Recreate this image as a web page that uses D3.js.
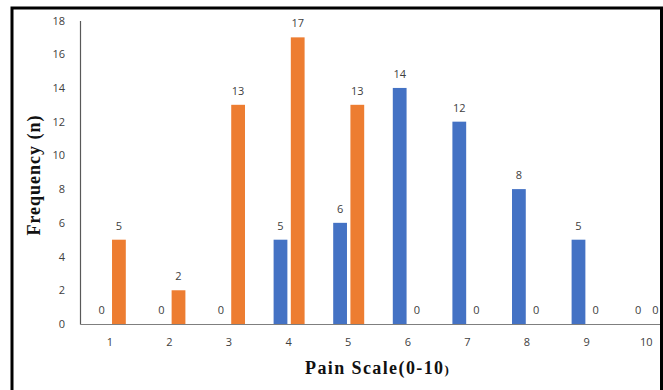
<!DOCTYPE html>
<html><head><meta charset="utf-8">
<script src="https://cdn.jsdelivr.net/npm/d3@7"></script>
<style>body{margin:0;background:#fff}svg{display:block}</style>
</head><body>
<svg id="c" width="663" height="390"></svg>
<script>
const categories = ["1","2","3","4","5","6","7","8","9","10"];
const seriesBlue = [0,0,0,5,6,14,12,8,5,0];
const seriesOrange = [5,2,13,17,13,0,0,0,0,0];
const yTicks = [0,2,4,6,8,10,12,14,16,18];

const svg = d3.select("#c");
const x = d3.scaleBand().domain(categories).range([80, 676]).padding(0);
const y = d3.scaleLinear().domain([0,18]).range([324, 20.5]);
const sub = d3.scaleBand().domain(["b","o"]).range([-15,16]).paddingInner(0.2);
const colors = {b:"#4472C4", o:"#ED7D31"};
const tickFont = "'Open Sans', Lato, sans-serif";

const g = svg.append("g");
const data = categories.map((c,i)=>({c, b:seriesBlue[i], o:seriesOrange[i]}));

["b","o"].forEach(k=>{
  g.selectAll(".bar"+k).data(data).enter().append("rect")
    .attr("x", d=> x(d.c)+x.bandwidth()/2 + sub(k))
    .attr("width", sub.bandwidth())
    .attr("y", d=> y(d[k]))
    .attr("height", d=> y(0)-y(d[k]))
    .attr("fill", colors[k]);
  g.selectAll(".lab"+k).data(data).enter().append("text")
    .attr("x", d=> x(d.c)+x.bandwidth()/2 + sub(k) + sub.bandwidth()/2)
    .attr("y", d=> y(d[k]) - 10)
    .attr("text-anchor","middle")
    .attr("font-family", tickFont).attr("font-size", 11)
    .attr("fill","#404040")
    .text(d=> d[k]);
});

// axes
const yAxis = d3.axisLeft(y).tickValues(yTicks).tickSize(0).tickPadding(15);
const ya = svg.append("g").attr("transform","translate(80,0)").call(yAxis);
ya.select(".domain").attr("stroke","#595959").attr("stroke-width",1.2);
ya.selectAll("text").attr("font-family",tickFont).attr("font-size",11).attr("fill","#404040");

const xAxis = d3.axisBottom(x).tickSize(0).tickPadding(14);
const xa = svg.append("g").attr("transform","translate(0,324)").call(xAxis);
xa.select(".domain").attr("stroke","#7f7f7f").attr("stroke-width",1.2);
xa.selectAll("text").attr("font-family",tickFont).attr("font-size",11).attr("fill","#404040");

// titles
const serif = "'Liberation Serif', 'DejaVu Serif', serif";
svg.append("text").attr("transform","translate(40,175) rotate(-90)")
  .attr("text-anchor","middle").attr("font-family",serif).attr("font-weight","bold")
  .attr("font-size",18).attr("letter-spacing",1).attr("fill","#111").text("Frequency (n)");
const xt = svg.append("text").attr("x",305).attr("y",374)
  .attr("font-family",serif).attr("font-weight","bold").attr("font-size",18)
  .attr("letter-spacing",1.4).attr("fill","#111");
xt.append("tspan").text("Pain Scale(0-10");
xt.append("tspan").attr("font-size",13).text(")");

// white cover outside frame then frame
svg.append("rect").attr("x",660).attr("y",0).attr("width",10).attr("height",390).attr("fill","#fff");
svg.append("path").attr("d","M12,390 L12,8 L661.5,8 L661.5,390")
  .attr("fill","none").attr("stroke","#000").attr("stroke-width",3);
</script>
</body></html>
